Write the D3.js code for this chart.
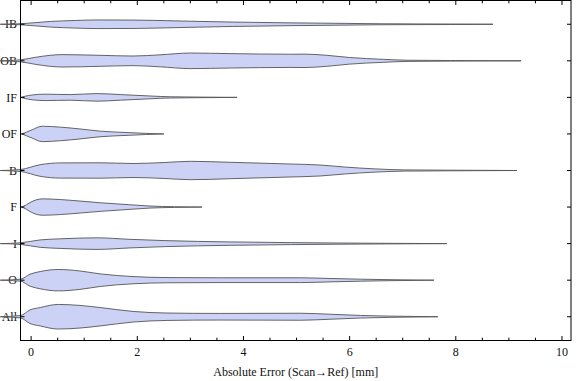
<!DOCTYPE html>
<html><head><meta charset="utf-8">
<script src="https://cdn.jsdelivr.net/npm/d3@7"></script>
<style>body{margin:0;background:#fff}svg{display:block}</style>
</head><body>
<svg id="c" width="576" height="381"></svg>
<script>
const categories = ["IB","OB","IF","OF","B","F","I","O","All"];
// each profile: [x (mm), density (relative half-width)]
const profIB = [[-0.58,0],[-0.2,0.5],[0.36,2.8],[0.83,3.8],[1.24,4.3],[1.92,4.2],[2.86,3.2],[3.8,2.2],[4.88,1.4],[5.69,1.0],[6.57,0.5],[7.27,0.35],[7.9,0.25],[8.7,0]];
const profOB = [[-0.58,0],[-0.2,1.0],[0.08,3.5],[0.36,5.5],[0.58,6.2],[1.3,5.5],[1.92,4.8],[2.43,6.0],[3.0,7.8],[3.75,7.2],[4.88,6.6],[5.16,6.7],[5.57,5.5],[6.0,3.3],[6.63,1.5],[7.08,0.6],[7.9,0.3],[9.23,0]];
const profIF = [[-0.19,0],[-0.11,1.2],[0.02,2.4],[0.26,3.2],[0.73,2.8],[1.24,3.8],[1.68,2.8],[2.24,1.4],[2.62,0.6],[3.18,0.3],[3.88,0]];
const profOF = [[-0.17,0],[-0.08,2.0],[0.02,4.2],[0.21,7.7],[0.55,6.8],[0.92,5.0],[1.3,2.8],[1.86,1.3],[2.15,0.6],[2.5,0]];
const profB  = [[-0.58,0],[-0.2,1.0],[0.17,5.8],[0.55,7.6],[1.3,7.7],[1.92,7.0],[2.52,8.0],[3.0,9.2],[3.75,8.2],[4.88,6.5],[5.44,5.5],[5.9,3.5],[6.48,1.6],[7.04,0.6],[7.9,0.3],[9.15,0]];
const profF  = [[-0.18,0],[-0.09,2.2],[-0.02,4.5],[0.21,8.2],[0.55,7.5],[0.92,6.0],[1.3,4.3],[1.86,2.3],[2.24,1.0],[2.7,0.35],[3.22,0]];
const profI  = [[-0.58,0],[-0.2,0.8],[0.17,3.7],[0.55,4.8],[1.24,5.8],[1.86,4.3],[2.52,3.0],[3.75,1.7],[4.88,1.0],[5.82,0.6],[6.57,0.35],[7.83,0]];
const profO  = [[-0.58,0],[-0.2,1.0],[-0.02,6.0],[0.17,8.6],[0.51,10.7],[0.92,9.2],[1.3,6.3],[1.92,3.6],[2.56,2.6],[3.56,2.4],[5.07,2.4],[5.63,1.7],[6.2,1.0],[6.76,0.5],[7.59,0]];
const profAll= [[-0.58,0],[-0.2,1.2],[-0.02,6.8],[0.17,9.2],[0.51,12.3],[0.92,11.3],[1.3,9.2],[1.92,5.3],[2.56,3.7],[3.56,3.3],[5.07,3.5],[5.63,2.5],[6.2,1.3],[6.76,0.6],[7.66,0]];
const profiles = [profIB, profOB, profIF, profOF, profB, profF, profI, profO, profAll];
const majorTicks = [0,2,4,6,8,10];
const xTitle = "Absolute Error (Scan\u2192Ref) [mm]";

const svg = d3.select("#c");
const L = 20.5, R = 571, T = 0.5, B = 340.5;
const x = d3.scaleLinear().domain([-0.2, 10.17]).range([L, R]);
const y = d3.scalePoint().domain(categories).range([T, B]).padding(0.65);
const maxD = d3.max(profiles, p => d3.max(p, d => d[1]));
const w = d3.scaleLinear().domain([0, maxD]).range([0, 12.3]);
const font = "'Liberation Serif','Times New Roman',serif";

// category labels (drawn below violins)
svg.append("g").selectAll("text").data(categories).join("text")
  .attr("x", L - 3.5).attr("y", d => y(d)).attr("dy", "0.35em")
  .attr("text-anchor", "end").attr("font-family", font).attr("font-size", 12)
  .attr("fill", "#111").text(d => d);

// violins
const area = d3.area().curve(d3.curveMonotoneX);
const g = svg.append("g");
categories.forEach((c, i) => {
  const cy = y(c);
  area.x(d => x(d[0])).y0(d => cy - w(d[1])).y1(d => cy + w(d[1]));
  g.append("path").attr("d", area(profiles[i]))
    .attr("fill", "#ccd2f5").attr("stroke", "#555").attr("stroke-width", 0.9)
    .attr("stroke-linejoin", "round");
});

// frame
svg.append("rect").attr("x", L).attr("y", T).attr("width", R - L).attr("height", B - T)
  .attr("fill", "none").attr("stroke", "#000").attr("stroke-width", 1);

// x ticks
const minor = d3.range(0, 10.01, 0.5).filter(v => !majorTicks.includes(v));
const tk = svg.append("g").attr("stroke", "#000").attr("stroke-width", 1);
majorTicks.forEach(v => {
  tk.append("line").attr("x1", x(v)).attr("x2", x(v)).attr("y1", B).attr("y2", B - 4.5);
  tk.append("line").attr("x1", x(v)).attr("x2", x(v)).attr("y1", T).attr("y2", T + 4.5);
});
minor.forEach(v => {
  tk.append("line").attr("x1", x(v)).attr("x2", x(v)).attr("y1", B).attr("y2", B - 2.8);
  tk.append("line").attr("x1", x(v)).attr("x2", x(v)).attr("y1", T).attr("y2", T + 2.8);
});
categories.forEach(c => {
  tk.append("line").attr("x1", L).attr("x2", L + 4).attr("y1", y(c)).attr("y2", y(c));
  tk.append("line").attr("x1", R).attr("x2", R - 4).attr("y1", y(c)).attr("y2", y(c));
});
svg.append("g").selectAll("text").data(majorTicks).join("text")
  .attr("x", d => x(d)).attr("y", B + 15).attr("text-anchor", "middle")
  .attr("font-family", font).attr("font-size", 12).attr("fill", "#111").text(d => d);

svg.append("text").attr("x", (L + R) / 2).attr("y", 375.5).attr("text-anchor", "middle")
  .attr("font-family", font).attr("font-size", 12).attr("fill", "#111").text(xTitle);
</script>
</body></html>
